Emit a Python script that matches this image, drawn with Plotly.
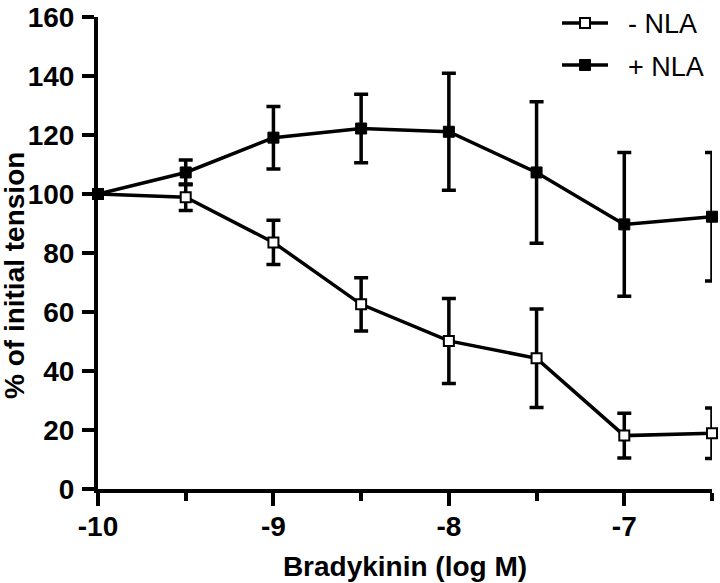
import plotly.graph_objects as go

log_conc = [-10, -9.5, -9, -8.5, -8, -7.5, -7, -6.5]

minus_nla = [100, 98.9, 83.6, 62.6, 50.2, 44.3, 18.1, 18.9]
minus_nla_err = [0, 4.5, 7.5, 9.0, 14.4, 16.7, 7.6, 8.6]

plus_nla = [100, 107.3, 119.1, 122.2, 121.1, 107.3, 89.7, 92.3]
plus_nla_err = [0, 4.2, 10.6, 11.6, 19.8, 24.0, 24.4, 21.8]

x_ticks = [-10, -9, -8, -7]
x_minor = [-9.5, -8.5, -7.5, -6.5]
y_ticks = [0, 20, 40, 60, 80, 100, 120, 140, 160]

FONT = "Liberation Sans, Arial, sans-serif"

fig = go.Figure()

fig.add_trace(go.Scatter(
    x=log_conc, y=minus_nla, name="\u00a0\u00a0- NLA", mode="lines+markers",
    line=dict(color="black", width=3.5),
    marker=dict(symbol="square", size=10, color="white",
                line=dict(color="black", width=2)),
    error_y=dict(type="data", array=minus_nla_err, color="black",
                 thickness=3.5, width=7),
    cliponaxis=False, legendgroup="a",
))
fig.add_trace(go.Scatter(
    x=log_conc, y=plus_nla, name="\u00a0\u00a0+ NLA", mode="lines+markers",
    line=dict(color="black", width=3.5),
    marker=dict(symbol="square", size=11, color="black",
                line=dict(color="black", width=1)),
    error_y=dict(type="data", array=plus_nla_err, color="black",
                 thickness=3.5, width=7),
    cliponaxis=False, legendgroup="b",
))

PLOT_W = 720 - 98 - 8

fig.update_layout(
    width=720, height=583,
    margin=dict(l=98, r=8, t=17, b=94, autoexpand=False),
    paper_bgcolor="white", plot_bgcolor="white",
    font=dict(family=FONT, color="black"),
    showlegend=True,
    legend=dict(
        x=(557 - 98) / PLOT_W, y=1.0385, xanchor="left", yanchor="top",
        font=dict(family=FONT, size=27, color="black"),
        bgcolor="rgba(0,0,0,0)", itemwidth=46,
        traceorder="grouped", tracegroupgap=4,
    ),
    xaxis=dict(
        range=[-10, -6.5], tickvals=x_ticks, ticktext=[str(v) for v in x_ticks],
        showgrid=False, zeroline=False,
        showline=True, linecolor="black", linewidth=4,
        ticks="outside", ticklen=13, tickwidth=4, tickcolor="black",
        ticklabelstandoff=-4,
        minor=dict(tickvals=x_minor, ticks="outside",
                   ticklen=8, tickwidth=4, tickcolor="black", showgrid=False),
        tickfont=dict(family=FONT, size=28, color="black", weight="bold"),
        title=dict(text="<b>Bradykinin (log M)</b>",
                   font=dict(family=FONT, size=28, color="black"), standoff=17),
    ),
    yaxis=dict(
        range=[0, 160], tickvals=y_ticks,
        showgrid=False, zeroline=False,
        showline=True, linecolor="black", linewidth=4,
        ticks="outside", ticklen=12, tickwidth=4, tickcolor="black",
        ticklabelstandoff=2,
        tickfont=dict(family=FONT, size=28, color="black", weight="bold"),
    ),
    annotations=[dict(
        text="<b>% of initial tension</b>", textangle=-90,
        xref="paper", yref="paper", x=(14 - 98) / PLOT_W, y=(489 - 276) / 472,
        xanchor="center", yanchor="middle", showarrow=False,
        font=dict(family=FONT, size=28, color="black"),
    )],
)

fig.write_html(
    "out.html",
    config={"displayModeBar": False},
    post_script="document.body.style.margin='0';document.body.style.overflow='hidden';",
)
